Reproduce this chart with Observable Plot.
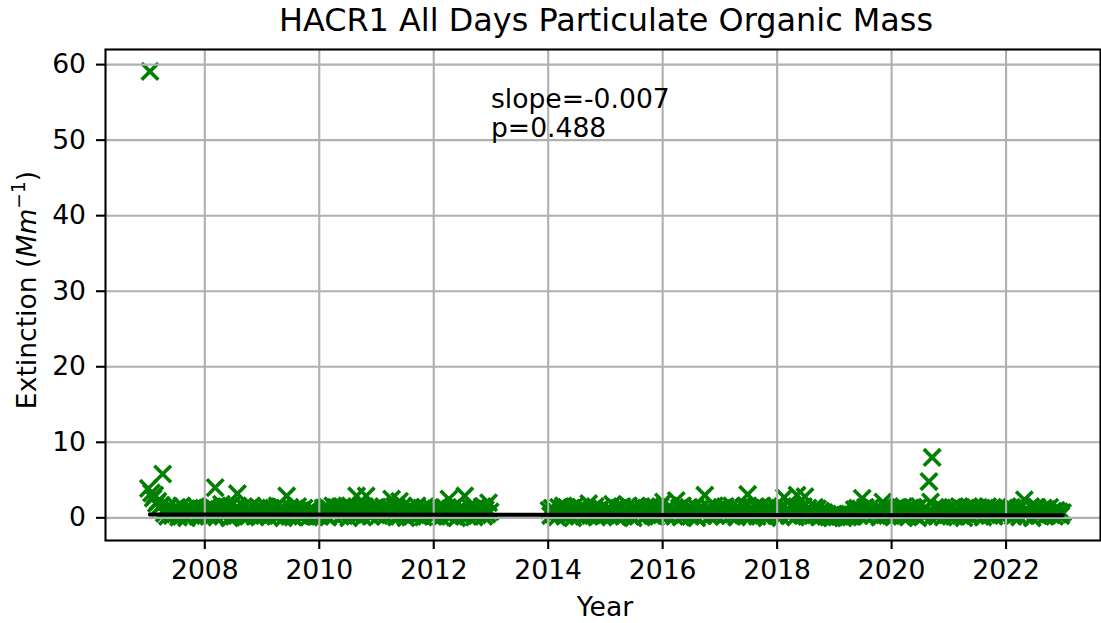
<!DOCTYPE html>
<html>
<head>
<meta charset="utf-8">
<script src="https://cdn.jsdelivr.net/npm/d3@7"></script>
<script src="https://cdn.jsdelivr.net/npm/@observablehq/plot@0.6"></script>
<style>
  html, body { margin: 0; padding: 0; background: #fff; }
  svg { display: block; }
</style>
</head>
<body>
<div id="chart"></div>
<script>
// ---- Data ----
const chartTitle = "HACR1 All Days Particulate Organic Mass";
const xLabel = "Year";
const xTicks = [2008, 2010, 2012, 2014, 2016, 2018, 2020, 2022];
const yTicks = [0, 10, 20, 30, 40, 50, 60];
const annotationLines = ["slope=-0.007", "p=0.488"];

// Extinction values, ~36 samples per year (sampled evenly through each year)
const v2007 = [3.9, 59.1, 3.3, 2.6, 3.0, 1.9, 2.2, 1.4, 1.7, 5.8, 0.6, 1.2, 0.2, 1.5, 0.8, 0.3, 1.1, 0.5, 1.4, 0.1, 0.9, 1.6, 0.4, 1.2, 0.0, 0.7, 1.3, 0.3, 1.0, 0.6, 1.5, 0.2, 0.9, 1.2, 0.4, 0.8];
const v2008 = [0.6, 1.3, 0.2, 0.9, 1.5, 0.4, 4.0, 0.1, 1.1, 0.7, 1.8, 0.3, 1.2, 0.5, 1.4, 0.0, 1.6, 0.8, 0.2, 1.3, 3.2, 0.6, 1.0, 0.3, 1.5, 0.1, 0.9, 1.2, 0.4, 1.6, 0.7, 0.2, 1.1, 0.5, 1.3, 0.3];
const v2009 = [1.2, 0.3, 1.5, 0.7, 0.1, 1.3, 0.5, 1.1, 0.2, 1.6, 0.4, 0.9, 1.4, 0.0, 0.8, 2.9, 0.4, 1.4, 0.8, 0.1, 1.2, 0.6, 1.5, 0.3, 1.0, 0.2, 1.3, 0.5, 0.8, 0.1, 1.1, 0.4, 0.9, 0.2, 0.7, 0.3];
const v2010 = [0.2, 0.8, 1.3, 0.4, 1.5, 0.1, 1.2, 0.6, 1.6, 0.3, 1.4, 0.7, 1.1, 0.2, 1.5, 0.5, 0.9, 1.3, 0.0, 1.6, 0.4, 1.2, 0.7, 2.9, 0.3, 1.4, 0.8, 0.1, 1.5, 2.9, 0.5, 1.3, 0.2, 1.0, 0.6, 1.4];
const v2011 = [1.4, 0.3, 1.1, 0.6, 1.5, 0.2, 0.9, 1.3, 0.4, 2.5, 0.8, 1.6, 0.1, 1.2, 2.2, 0.5, 1.5, 0.7, 0.0, 1.3, 0.6, 1.4, 0.2, 1.1, 0.5, 1.6, 0.3, 0.9, 1.2, 0.1, 1.4, 0.7, 1.0, 0.4, 1.3, 0.2];
const v2012 = [0.3, 1.2, 0.6, 1.5, 0.1, 1.0, 1.4, 0.4, 0.8, 2.5, 0.2, 1.3, 0.7, 1.6, 0.0, 1.1, 0.5, 1.4, 0.3, 2.9, 0.9, 0.2, 1.5, 0.6, 1.2, 0.1, 1.3, 0.4, 1.0, 0.7, 1.5, 0.2, 1.1, 0.5, 2.0, 0.8];
const v2014 = [1.0, 0.3, 1.3, 0.5, 0.9, 0.1, 1.4, 0.6, 1.2, 1.6, 0.2, 1.4, 0.7, 0.4, 1.3, 0.0, 1.5, 0.6, 1.1, 0.3, 1.4, 0.8, 0.2, 1.2, 0.5, 1.9, 0.3, 1.1, 0.6, 1.5, 0.1, 1.0, 0.4, 1.3, 0.2, 0.9];
const v2015 = [0.4, 1.2, 0.7, 0.3, 1.8, 0.6, 1.4, 0.1, 1.3, 0.5, 1.5, 0.2, 1.1, 0.7, 1.6, 0.3, 1.2, 0.0, 1.4, 0.6, 1.0, 0.4, 1.5, 0.8, 0.2, 1.3, 0.5, 1.1, 1.6, 0.3, 1.4, 0.1, 1.2, 0.6, 1.5, 0.4];
const v2016 = [2.1, 0.5, 1.2, 0.3, 1.5, 0.8, 1.1, 0.2, 2.3, 0.6, 1.3, 0.1, 1.6, 0.4, 1.0, 0.7, 1.4, 0.2, 1.2, 0.5, 1.5, 0.0, 1.1, 0.6, 1.3, 0.3, 3.0, 0.7, 1.4, 0.2, 1.0, 0.5, 1.6, 0.3, 1.2, 0.8];
const v2017 = [0.6, 1.3, 0.2, 1.5, 0.8, 1.1, 0.3, 1.6, 0.5, 1.2, 0.1, 1.4, 0.7, 1.0, 0.4, 1.5, 0.2, 3.1, 0.7, 1.3, 0.4, 1.0, 1.5, 0.2, 1.3, 0.6, 1.6, 0.3, 1.1, 0.0, 1.4, 0.5, 1.2, 0.8, 1.5, 0.3];
const v2018 = [0.5, 1.3, 0.2, 1.5, 2.7, 0.8, 1.2, 0.3, 1.6, 0.6, 1.4, 0.1, 3.0, 0.7, 1.1, 0.4, 1.5, 2.8, 0.2, 1.3, 0.6, 1.0, 0.3, 1.4, 0.5, 1.2, 0.1, 0.9, 0.4, 0.7, 0.2, 0.4, 0.1, 0.3, 0.0, 0.5];
const v2019 = [0.3, 0.1, 0.4, 0.2, 0.5, 0.0, 0.3, 0.4, 0.1, 0.5, 0.2, 0.4, 1.1, 0.6, 1.3, 0.3, 1.2, 2.6, 0.5, 1.4, 0.2, 1.0, 0.7, 1.5, 0.3, 1.1, 0.6, 1.3, 0.1, 0.9, 2.1, 0.4, 1.4, 0.6, 1.2, 0.3];
const v2020 = [0.7, 1.2, 0.3, 1.4, 0.6, 1.0, 0.2, 1.5, 0.5, 1.1, 0.1, 1.3, 0.8, 1.4, 0.4, 1.2, 0.0, 1.5, 0.6, 1.0, 0.3, 1.3, 0.5, 4.8, 2.1, 8.0, 0.4, 1.4, 0.2, 1.1, 0.7, 1.3, 0.1, 1.0, 0.5, 1.2];
const v2021 = [1.1, 0.4, 1.4, 0.2, 1.0, 0.7, 1.5, 0.3, 1.2, 0.0, 1.3, 0.6, 1.5, 0.2, 1.1, 0.8, 1.4, 0.4, 1.0, 0.5, 1.3, 0.1, 1.2, 0.6, 1.5, 0.3, 0.9, 1.4, 0.2, 1.1, 0.7, 1.3, 0.4, 1.0, 0.6, 1.2];
const v2022 = [0.4, 1.2, 0.7, 1.4, 0.2, 1.0, 0.5, 1.3, 0.1, 1.5, 0.6, 2.4, 0.3, 1.1, 0.8, 1.5, 0.0, 1.2, 0.5, 1.4, 0.3, 1.0, 0.7, 1.3, 0.2, 1.1, 0.6, 1.4, 0.4, 0.9, 0.2, 1.0, 0.5, 0.8, 0.3, 0.7];

// Trend line (fit) end points
const trendYears = [2007.04, 2022.99];
const trendValues = [0.45, 0.34];

// ---- Build tables ----
const yearSeries = [
  [2007, v2007], [2008, v2008], [2009, v2009], [2010, v2010], [2011, v2011], [2012, v2012],
  [2014, v2014], [2015, v2015], [2016, v2016], [2017, v2017], [2018, v2018], [2019, v2019],
  [2020, v2020], [2021, v2021], [2022, v2022]
];
const points = [];
for (const [yr, vals] of yearSeries) {
  vals.forEach((v, i) => points.push({year: yr + (i + 0.5) / vals.length, value: v}));
}
const trend = trendYears.map((t, i) => ({year: t, value: trendValues[i]}));

const FONT = "DejaVu Sans";
const FS = 26.6;

const chart = Plot.plot({
  width: 1101,
  height: 623,
  marginLeft: 105,
  marginRight: 1,
  marginTop: 49,
  marginBottom: 83,
  style: {fontFamily: FONT, fontSize: FS + "px", background: "#fff", color: "#000", overflow: "visible"},
  x: {domain: [2006.265, 2023.65], label: null},
  y: {domain: [-3.0, 62.0], label: null},
  marks: [
    Plot.dot(points, {x: "year", y: "value", symbol: "times", r: 7.6, stroke: "#008000", strokeWidth: 3.6}),
    Plot.gridX(xTicks, {stroke: "#b0b0b0", strokeOpacity: 1, strokeWidth: 2.1}),
    Plot.gridY(yTicks, {stroke: "#b0b0b0", strokeOpacity: 1, strokeWidth: 2.1}),
    Plot.line(trend, {x: "year", y: "value", stroke: "#000", strokeWidth: 4}),
    Plot.frame({stroke: "#000", strokeWidth: 2.1}),
    Plot.axisX(xTicks, {tickSize: 9, tickPadding: 11, strokeWidth: 2.1, tickFormat: d => String(d), fontSize: FS, label: null}),
    Plot.axisY(yTicks, {tickSize: 9, tickPadding: 10.5, strokeWidth: 2.1, fontSize: FS, label: null}),
    Plot.text([annotationLines[0]], {x: 2013.0, y: 55.4, text: d => d, textAnchor: "start", lineAnchor: "middle", fontSize: FS, fill: "#000"}),
    Plot.text([annotationLines[1]], {x: 2013.0, y: 51.5, text: d => d, textAnchor: "start", lineAnchor: "middle", fontSize: FS, fill: "#000"}),
    Plot.text([chartTitle], {frameAnchor: "top", dx: 3, dy: -29, lineAnchor: "middle", text: d => d, fontSize: 31.9, fill: "#000"}),
    Plot.text([xLabel], {frameAnchor: "bottom", dx: 2, dy: 67, lineAnchor: "middle", text: d => d, fontSize: FS, fill: "#000"})
  ]
});

// Y-axis label with italic unit and superscript
const svg = d3.select(chart);
const yl = svg.append("text")
  .attr("transform", "translate(27,290) rotate(-90)")
  .attr("text-anchor", "middle")
  .attr("dy", "0.35em")
  .attr("fill", "#000")
  .style("font-family", FONT)
  .style("font-size", FS + "px");
yl.append("tspan").text("Extinction (");
yl.append("tspan").attr("font-style", "italic").text("Mm");
yl.append("tspan").attr("dy", -11).attr("font-size", (FS * 0.7) + "px").text("\u22121");
yl.append("tspan").attr("dy", 11).text(")");

document.getElementById("chart").appendChild(chart);
</script>
</body>
</html>
